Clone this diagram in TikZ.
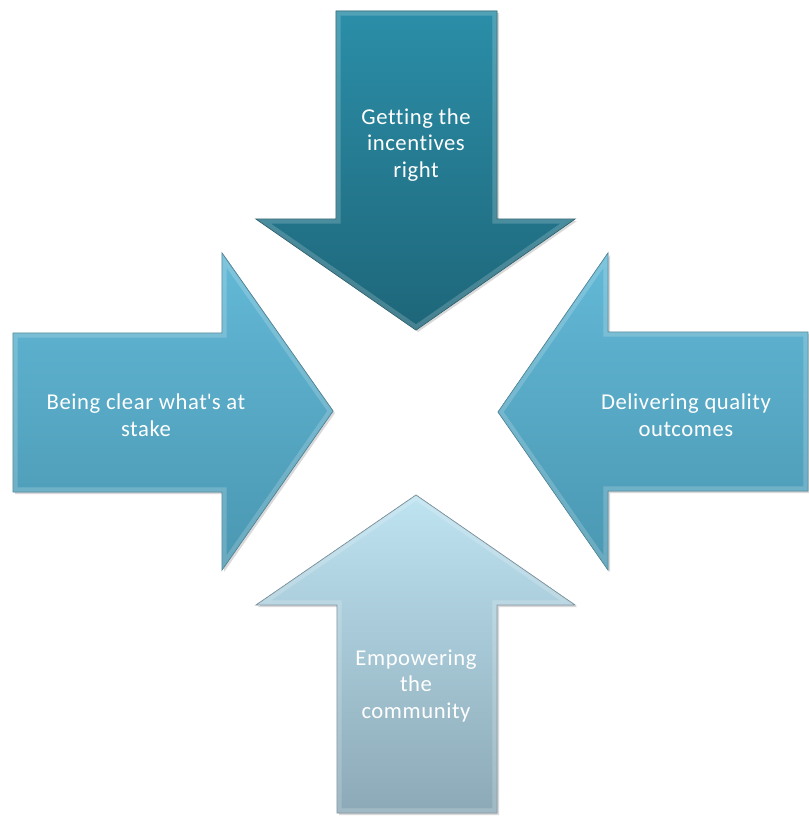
\documentclass[tikz,border=0pt]{standalone}
\usepackage{fontspec}
\setmainfont[Ligatures={NoCommon},LetterSpace=2.5]{Carlito}
\usetikzlibrary{shadows}
\definecolor{topA}{HTML}{2B8EA8}
\definecolor{topB}{HTML}{1E6679}
\definecolor{sideA}{HTML}{63B9D7}
\definecolor{sideB}{HTML}{4A97B1}
\definecolor{botA}{HTML}{BEE3F1}
\definecolor{botB}{HTML}{8CA9B7}
\tikzset{
  arrowbody/.style n args={3}{shading=axis, top color=#1, bottom color=#2, draw=#3, line width=0.6pt, line join=miter,
    drop shadow={shadow xshift=1.5pt, shadow yshift=-1.5pt, opacity=0.25, fill=black!60}},
  rim/.style={draw=white, draw opacity=0.18, line width=7pt, line join=miter},
  lbl/.style={text=white, font=\fontsize{17}{20}\selectfont, align=center, inner sep=0pt}
}
\begin{document}
\begin{tikzpicture}[x=0.75pt,y=-0.75pt]
\useasboundingbox (0,0) rectangle (808,817);
% top arrow
\path[arrowbody={topA}{topB}{topB!80!black}] (336,11) -- (497,11) -- (497,219) -- (575,219) -- (416,330) -- (256,219) -- (336,219) -- cycle;
\begin{scope}
\clip (336,11) -- (497,11) -- (497,219) -- (575,219) -- (416,330) -- (256,219) -- (336,219) -- cycle;
\path[rim] (336,11) -- (497,11) -- (497,219) -- (575,219) -- (416,330) -- (256,219) -- (336,219) -- cycle;
\end{scope}
% left arrow
\path[arrowbody={sideA}{sideB}{sideB!80!black}] (13,333) -- (222,333) -- (222,253) -- (333,411) -- (222,570) -- (222,492) -- (13,492) -- cycle;
\begin{scope}
\clip (13,333) -- (222,333) -- (222,253) -- (333,411) -- (222,570) -- (222,492) -- (13,492) -- cycle;
\path[rim] (13,333) -- (222,333) -- (222,253) -- (333,411) -- (222,570) -- (222,492) -- (13,492) -- cycle;
\end{scope}
% right arrow
\path[arrowbody={sideA}{sideB}{sideB!80!black}] (808,332) -- (608,332) -- (608,253) -- (498,412) -- (608,570) -- (608,491) -- (808,491) -- cycle;
\begin{scope}
\clip (808,332) -- (608,332) -- (608,253) -- (498,412) -- (608,570) -- (608,491) -- (808,491) -- cycle;
\path[rim] (808,332) -- (608,332) -- (608,253) -- (498,412) -- (608,570) -- (608,491) -- (808,491) -- cycle;
\end{scope}
% bottom arrow
\path[arrowbody={botA}{botB}{botB!80!black}] (416,495) -- (575,605) -- (497,605) -- (497,813) -- (337,813) -- (337,605) -- (256,605) -- cycle;
\begin{scope}
\clip (416,495) -- (575,605) -- (497,605) -- (497,813) -- (337,813) -- (337,605) -- (256,605) -- cycle;
\path[rim] (416,495) -- (575,605) -- (497,605) -- (497,813) -- (337,813) -- (337,605) -- (256,605) -- cycle;
\end{scope}
% labels
\node[lbl] (ttop) at (416,145) {Getting the\\incentives\\right};
\node[lbl] (tleft) at (146,415) {Being clear what\textquotesingle s at\\stake};
\node[lbl] (tright) at (686,415) {Delivering quality\\outcomes};
\node[lbl] (tbot) at (416,686) {Empowering\\the\\community};
\end{tikzpicture}
\end{document}
